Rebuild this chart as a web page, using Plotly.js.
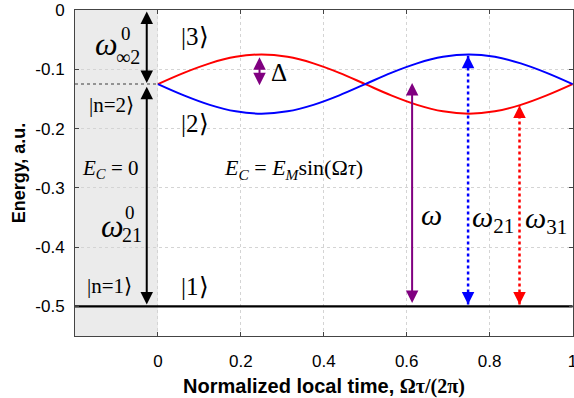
<!DOCTYPE html>
<html><head><meta charset="utf-8">
<script src="https://cdn.plot.ly/plotly-3.0.1.min.js"></script>
<style>html,body{margin:0;padding:0;background:#fff}#chart{width:574px;height:398px}</style>
</head><body><div id="chart"></div>
<script>
// Data
const tau = [0,0.0625,0.125,0.1875,0.25,0.3125,0.375,0.4375,0.5,0.5625,0.625,0.6875,0.75,0.8125,0.875,0.9375,1];
const level3 = [-0.125,-0.106,-0.090,-0.079,-0.075,-0.079,-0.090,-0.106,-0.125,-0.144,-0.160,-0.171,-0.175,-0.171,-0.160,-0.144,-0.125];
const level2 = [-0.125,-0.144,-0.160,-0.171,-0.175,-0.171,-0.160,-0.144,-0.125,-0.106,-0.090,-0.079,-0.075,-0.079,-0.090,-0.106,-0.125];
const groundX = [-0.2, 1];
const groundY = [-0.5, -0.5];
const n2X = [-0.2, 0];
const n2Y = [-0.125, -0.125];
const shadeX = [-0.2, 0];
const xTickVals = [0,0.2,0.4,0.6,0.8,1];
const xTickText = ['0','0.2','0.4','0.6','0.8','1'];
const yTickVals = [0,-0.1,-0.2,-0.3,-0.4,-0.5];
const yTickText = ['0','-0.1','-0.2','-0.3','-0.4','-0.5'];
// arrows: [x, yStart, yEnd]
const arrowInf2 = [-0.027, 0, -0.123];
const arrow21 = [-0.027, -0.127, -0.497];
const arrowDelta = [0.245, -0.077, -0.127];
const arrowW = [0.613, -0.497, -0.123];
const arrowW21 = [0.748, -0.497, -0.077];
const arrowW31 = [0.872, -0.497, -0.161];

const serif = 'Liberation Serif, Times New Roman, serif';
const sans = 'Liberation Sans, Arial, sans-serif';

const traces = [
  {x: groundX, y: groundY, mode:'lines', line:{color:'#000', width:2.2}, hoverinfo:'skip'},
  {x: n2X, y: n2Y, mode:'lines', line:{color:'#777', width:1.5, dash:'dot'}, hoverinfo:'skip'},
  {x: tau, y: level3, mode:'lines', line:{color:'#ff0000', width:2, shape:'spline'}},
  {x: tau, y: level2, mode:'lines', line:{color:'#0000ff', width:2, shape:'spline'}},
  {x: [arrowW21[0], arrowW21[0]], y: [arrowW21[1], arrowW21[2]], mode:'lines', line:{color:'#0000ff', width:2.5, dash:'dot'}},
  {x: [arrowW31[0], arrowW31[0]], y: [arrowW31[1], arrowW31[2]], mode:'lines', line:{color:'#ff0000', width:2.5, dash:'dot'}}
];

function dbl(a, color){
  return {x:a[0], y:a[2], ax:a[0], ay:a[1], xref:'x', yref:'y', axref:'x', ayref:'y', text:'', showarrow:true,
    arrowhead:2, startarrowhead:2, arrowside:'end+start', arrowsize:1.25, startarrowsize:1.25, arrowwidth:2, arrowcolor:color, standoff:0, startstandoff:0};
}
function head(xv, yv, dir, color){
  return {x:xv, y:yv, ax:xv, ay:yv - dir*0.012, xref:'x', yref:'y', axref:'x', ayref:'y', text:'', showarrow:true,
    arrowhead:2, arrowsize:1.25, arrowwidth:2, arrowcolor:color, standoff:0};
}
function txt(xv, yv, t, size){
  return {x:xv, y:yv, xref:'x', yref:'y', text:t, showarrow:false, font:{family:serif, size:size, color:'#000'}};
}

const annotations = [
  dbl(arrowInf2, '#000'),
  dbl(arrow21, '#000'),
  dbl(arrowDelta, '#800080'),
  dbl(arrowW, '#800080'),
  head(arrowW21[0], arrowW21[1], -1, '#0000ff'),
  head(arrowW21[0], arrowW21[2], 1, '#0000ff'),
  head(arrowW31[0], arrowW31[1], -1, '#ff0000'),
  head(arrowW31[0], arrowW31[2], 1, '#ff0000'),
  txt(-0.125, -0.058, '<i>ω</i>', 32),
  txt(-0.077, -0.040, '0', 19),
  txt(-0.072, -0.080, '∞2', 20),
  txt(-0.113, -0.161, '|n=2⟩', 21),
  txt(-0.116, -0.269, '<i>E</i><sub><i>C</i></sub> = 0', 21),
  txt(-0.11, -0.365, '<i>ω</i>', 32),
  txt(-0.067, -0.341, '0', 19),
  txt(-0.062, -0.380, '21', 20),
  txt(-0.118, -0.466, '|n=1⟩', 21),
  txt(0.089, -0.045, '|3⟩', 25),
  txt(0.089, -0.192, '|2⟩', 25),
  txt(0.089, -0.466, '|1⟩', 25),
  txt(0.292, -0.106, 'Δ', 25),
  txt(0.328, -0.269, '<i>E</i><sub><i>C</i></sub> = <i>E</i><sub><i>M</i></sub>sin(Ω<i>τ</i>)', 22),
  txt(0.66, -0.345, '<i>ω</i>', 30),
  txt(0.807, -0.352, '<i>ω</i><sub>21</sub>', 30),
  txt(0.935, -0.355, '<i>ω</i><sub>31</sub>', 30)
];

const layout = {
  width:574, height:398,
  margin:{l:75, r:1, t:10, b:62},
  paper_bgcolor:'#fff', plot_bgcolor:'#fff',
  showlegend:false,
  xaxis:{range:[-0.2,1.001], tickvals:xTickVals, ticktext:xTickText, showgrid:true, gridcolor:'#d4d4d4', griddash:'dot', gridwidth:1,
    zeroline:false, showline:true, linecolor:'#444', linewidth:1, mirror:'ticks', ticks:'inside', ticklen:4, tickcolor:'#444',
    tickfont:{family:sans, size:17, color:'#000'}, ticklabelstandoff:10, ticklabeloverflow:'allow',
    title:{text:'<b>Normalized local time, <span style="font-family:Liberation Serif">Ωτ/(2π)</span></b>', font:{family:sans, size:20, color:'#000'}, standoff:12}},
  yaxis:{range:[-0.55,0], tickvals:yTickVals, ticktext:yTickText, showgrid:true, gridcolor:'#d4d4d4', griddash:'dot', gridwidth:1,
    zeroline:false, showline:true, linecolor:'#444', linewidth:1, mirror:'ticks', ticks:'inside', ticklen:4, tickcolor:'#444',
    tickfont:{family:sans, size:17, color:'#000'}, ticklabelstandoff:6, ticklabeloverflow:'allow',
    title:{text:'<b>Energy, a.u.</b>', font:{family:sans, size:18, color:'#000'}, standoff:5}},
  shapes:[{type:'rect', xref:'x', yref:'paper', x0:shadeX[0], x1:shadeX[1], y0:0, y1:1, fillcolor:'#ebebeb', line:{width:0}, layer:'below'}],
  annotations:annotations
};
Plotly.newPlot('chart', traces, layout, {staticPlot:true, displayModeBar:false});
</script></body></html>
